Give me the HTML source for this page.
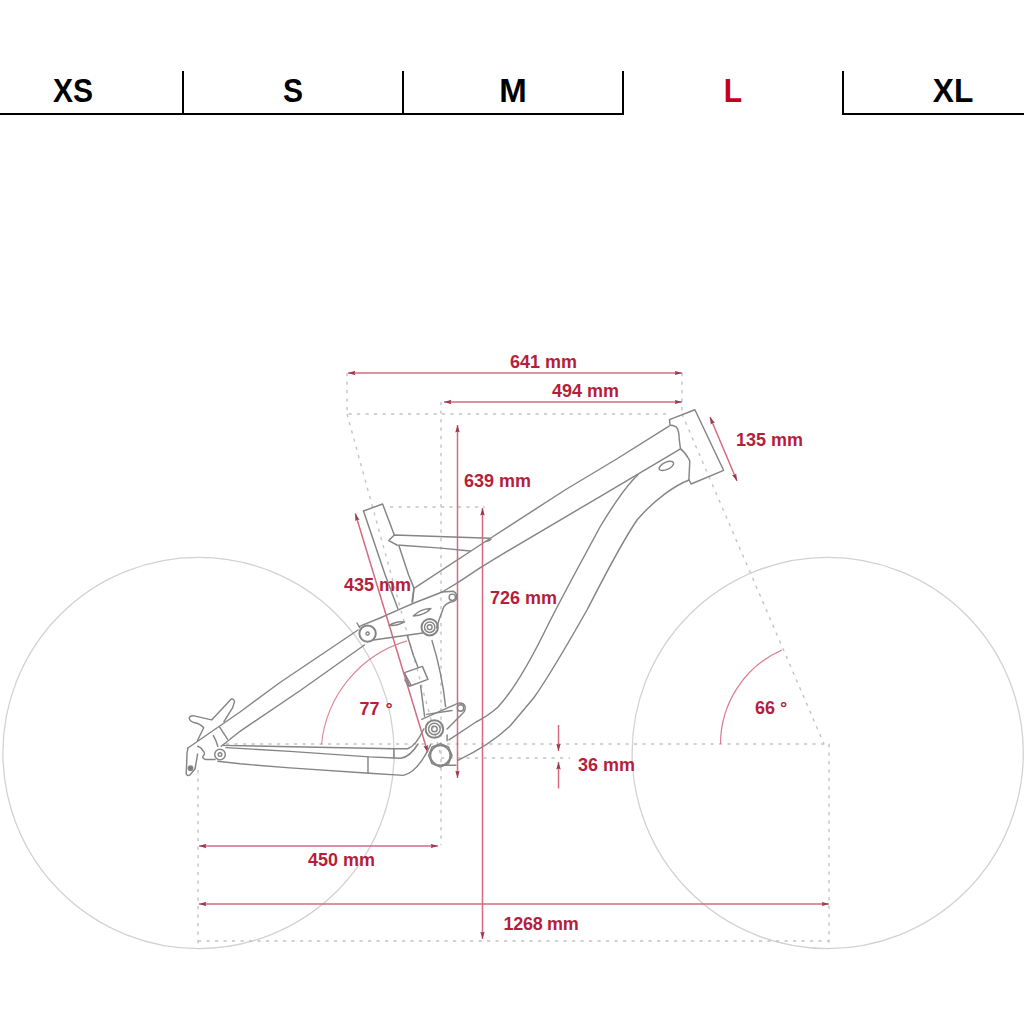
<!DOCTYPE html>
<html><head><meta charset="utf-8">
<style>
html,body{margin:0;padding:0;background:#fff;}
body{width:1024px;height:1024px;overflow:hidden;position:relative;font-family:"Liberation Sans",sans-serif;}
.tab{position:absolute;top:0;height:115px;font-weight:bold;font-size:33px;color:#000;text-align:center;}
.tab span{position:absolute;left:1px;right:-1px;top:74px;line-height:33px;transform:scaleX(0.91);}
.ln{position:absolute;background:#000;}
svg{position:absolute;left:0;top:0;}
svg text{font-family:"Liberation Sans",sans-serif;font-weight:bold;font-size:18px;fill:#b41f3c;}
</style></head>
<body>
<div class="tab" style="left:-38px;width:220px"><span>XS</span></div>
<div class="tab" style="left:182px;width:220px"><span>S</span></div>
<div class="tab" style="left:402px;width:220px"><span style="transform:none">M</span></div>
<div class="tab" style="left:622px;width:220px;color:#c4001c"><span>L</span></div>
<div class="tab" style="left:842px;width:220px"><span style="transform:scaleX(0.96)">XL</span></div>
<div class="ln" style="left:0;top:113px;width:624px;height:2px"></div>
<div class="ln" style="left:842px;top:113px;width:182px;height:2px"></div>
<div class="ln" style="left:182px;top:71px;width:2px;height:44px"></div>
<div class="ln" style="left:402px;top:71px;width:2px;height:44px"></div>
<div class="ln" style="left:622px;top:71px;width:2px;height:44px"></div>
<div class="ln" style="left:842px;top:71px;width:2px;height:44px"></div>

<svg width="1024" height="1024" viewBox="0 0 1024 1024">
<defs>
<marker id="ar" viewBox="0 0 10 10" refX="10" refY="5" markerWidth="7.5" markerHeight="7.5" orient="auto-start-reverse" markerUnits="userSpaceOnUse"><path d="M0,2 L10,5 L0,8 L1.5,5 z" fill="#9a3850"/></marker>
</defs>
<!-- wheels -->
<g fill="none" stroke="#d2d2d2" stroke-width="1.3">
<circle cx="198.5" cy="753" r="195.6"/>
<circle cx="827.7" cy="753" r="195.6"/>
</g>
<!-- dashed construction lines -->
<g fill="none" stroke="#c4c4c4" stroke-width="1.4" stroke-dasharray="3.2 5.3">
<path d="M347,373 V414 H668"/>
<path d="M347,414 L441,756"/>
<path d="M441,402 V845"/>
<path d="M390,507 H485"/>
<path d="M682,373 V414"/>
<path d="M682,414 L824,744"/>
<path d="M226,744 H830"/>
<path d="M441,758 H570"/>
<path d="M829,744 V949"/>
<path d="M198,770 V949"/>
<path d="M198,941 H829"/>
</g>
<!-- red dimension lines -->
<g fill="none" stroke="#d46b81" stroke-width="1.5">
<path d="M348,373 H682" marker-start="url(#ar)" marker-end="url(#ar)"/>
<path d="M444,402 H682" marker-start="url(#ar)" marker-end="url(#ar)"/>
<path d="M710,417 L737,481" marker-start="url(#ar)" marker-end="url(#ar)"/>
<path d="M457.5,425 V778" marker-start="url(#ar)" marker-end="url(#ar)"/>
<path d="M482.5,508 V939" marker-start="url(#ar)" marker-end="url(#ar)"/>
<path d="M355.3,513.5 L427.8,752.5" marker-start="url(#ar)" marker-end="url(#ar)"/>
<path d="M199,846 H438" marker-start="url(#ar)" marker-end="url(#ar)"/>
<path d="M199,904 H829" marker-start="url(#ar)" marker-end="url(#ar)"/>
<path d="M558.5,725 V751" marker-end="url(#ar)"/>
<path d="M558.5,788.5 V762" marker-end="url(#ar)"/>
<path d="M321.5,744.6 A120,120 0 0 1 407.1,640.9" stroke-width="1.1" stroke="#dc8797"/>
<path d="M720.5,744 A103,103 0 0 1 782,650" stroke-width="1.2" stroke="#d97a8d"/>
</g>
<!-- labels -->
<text x="510" y="368">641 mm</text>
<text x="552" y="397">494 mm</text>
<text x="736" y="446">135 mm</text>
<text x="464" y="487">639 mm</text>
<text x="490" y="604">726 mm</text>
<text x="344" y="591">435 mm</text>
<text x="359.5" y="715">77 <tspan dx="1">°</tspan></text>
<text x="755" y="714">66 °</text>
<text x="578" y="771">36 mm</text>
<text x="308" y="866">450 mm</text>
<text x="503.5" y="930" letter-spacing="-0.3">1268 mm</text>

<!-- frame -->
<g fill="none" stroke="#858585" stroke-width="1.45" stroke-linejoin="round" stroke-linecap="round">
<!-- head tube -->
<path d="M669.5,419.6 L694.9,409.8 L723.6,470.3 L691.1,484 L688.9,479.5 L689.8,461.1 L688.5,458.5 Q685,452 680.5,448.8 L679.3,440 Q679,430 676.5,427.2 Q674,425.5 670,425 Z"/>
<ellipse cx="666.4" cy="465.9" rx="7.8" ry="3.6" transform="rotate(-25 666.4 465.9)"/>
<!-- top tube -->
<path d="M669.5,425.9 L615,460 L565,490 L490,538.5 L414,588.4 L412.6,602"/>
<path d="M680.5,448.8 L600,496.6 L500,555.6 L480,567.8 L457.8,582.7 L442.2,592 L414.1,603 L400,609.2 L380,618 L358.8,626.6"/>
<!-- down tube -->
<path d="M638,474.7 C628,484 615,502 600,527 C585,555 560,600 543,635 C528,665 512,692 498,707 Q488,716 476,722 L449,739.8"/>
<path d="M689,480 C676,485 656,498 637,520 C620,545 600,585 587,610 C570,640 550,675 534,697.5 Q522,712 510,726 Q490,745 457.9,760.3"/>
<!-- seat clamp / upper seat tube -->
<path d="M363.5,511 L382.6,504 L394.3,535"/>
<path d="M363.5,511 L385.2,575 L398,609"/>
<path d="M399,546 L408.6,575 L413.9,587.9 L412,602"/>
<path d="M486,541.5 Q493,539.5 490,538.3 L394.3,535 L388.7,540.6 L397,545 L441,548.1 L470.2,551"/>
<!-- rocker -->
<path d="M373.4,640 L422.7,633"/>
<path d="M436.7,627.7 L439,620 L443.75,606.9 Q446,603.5 450,602.2"/>
<path d="M442.2,592 L453.1,591.3 Q457.5,593 456.5,599 Q455,602 450,602.2"/>
<circle cx="429.7" cy="627.2" r="8.2" stroke-width="2"/>
<circle cx="429.7" cy="627.2" r="5.2"/>
<circle cx="429.7" cy="627.2" r="2.4"/>
<circle cx="452.3" cy="597.3" r="3.2"/>
<path d="M413.3,616 Q420,609 430.9,608.4 Q425,615 413.3,616 Z"/>
<path d="M389.3,625.4 Q396,621 404.5,621.9 Q398,626 389.3,625.4 Z"/>
<path d="M357,623 L360,628"/>
<!-- shock / lower seat tube -->
<path d="M407.4,636 L413.3,655 L418,667.3"/>
<path d="M420.6,685.8 L424.6,716.4"/>
<path d="M432,640.6 C438,660 443,682 445.6,706.6"/>
<path d="M404.6,672.6 L422.4,666.4 L427.9,679.4 L409.4,686.3 Z"/>
<path d="M406,676 L411,685 M405,680 L409,686"/>
<!-- lower shock link -->
<path d="M421.7,719.3 L454.9,704.6 Q462,701 465,706 Q466,711 462,714 L447.1,729"/>
<path d="M426.6,714.4 L452,710.5"/>
<circle cx="460.5" cy="708" r="3.2"/>
<circle cx="434.4" cy="729" r="8.8" stroke-width="2"/>
<circle cx="434.4" cy="729" r="5.8"/>
<circle cx="434.4" cy="729" r="2.8"/>
<path d="M447.1,735 L447.1,740.8"/>
<!-- BB -->
<path d="M440.3,743.7 L448.5,747 L452,755.4 L448.5,763.6 L440.3,767.1 L432,763.6 L428.6,755.4 L432,747 Z"/>
<circle cx="440.3" cy="755.4" r="10" stroke-width="1.8"/>
<path d="M442.2,765.2 L455.9,765.2"/>
<!-- seat stays -->
<path d="M187.9,748 L240,712 L280,682.5 L358,630"/>
<path d="M221.3,746.2 L240,731.3 L301,690 L364.4,645"/>
<path d="M219.5,726.9 L227.5,739.2"/>
<circle cx="367.6" cy="633.6" r="8.2" stroke-width="2"/>
<circle cx="367.6" cy="633.6" r="1.6"/>
<!-- chain stays -->
<path d="M222.2,745.4 L393.9,748.7 L407.6,748.7 Q416,746 423.7,729"/>
<path d="M226,747.6 L290,751.4 L369.3,756.9 L400.7,758.3 Q410,757 418,744"/>
<path d="M217.8,761.2 L240,763.8 L290,767.9 L369.3,773.3 L403.5,775.4 Q418,772 430.5,744.7"/>
<path d="M393.9,748.7 V758.3"/>
<path d="M368,757 V773"/>
<circle cx="220" cy="754.6" r="5.3"/>
<circle cx="220" cy="754.6" r="1.8"/>
<!-- dropout / hanger -->
<path d="M187.9,748 L187,753.3 L186.6,764.7 L186.2,773.5 Q187,776.5 189.7,775.2 L195,769 L196.7,759.4 L197.6,754.1"/>
<path d="M197.6,746.2 Q201,747 202.8,750.6 Q205,753 204.6,754 Q202,757 202.8,757.7 Q204,759.4 205.5,759.4 L215.1,759.4"/>
<path d="M213.4,735.7 Q216,740 217.8,746.2"/>
<circle cx="190.5" cy="768.2" r="2.2" fill="#7a7a7a"/>
<!-- brake mount -->
<path d="M197.5,740.5 L203.7,727.8 Q200,723.5 194,722.5 Q189.5,721.5 189.2,717.8 Q190,715.2 194,715.9 L211.6,719.9 L226.6,704.1 L231,699.2 Q234,698.6 234.5,701.6 L232.7,707.6 L223.9,721.6"/>
</g>
</svg>
</body></html>
